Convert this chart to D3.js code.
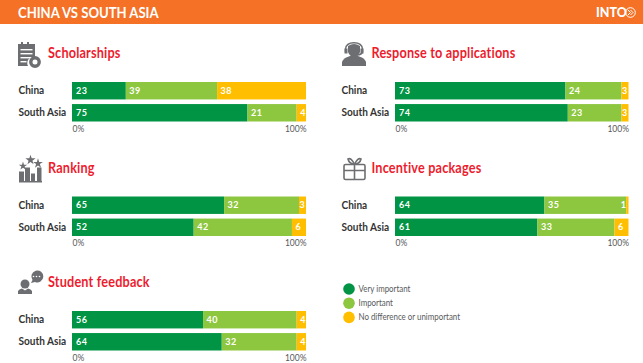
<!DOCTYPE html>
<html lang="en">
<head>
<meta charset="UTF-8">
<title>China vs South Asia</title>
<script src="https://cdnjs.cloudflare.com/ajax/libs/d3/7.8.5/d3.min.js"></script>
<style>
  html, body { margin: 0; padding: 0; background: #fff; }
  svg { display: block; font-family: Lato, "Noto Sans", sans-serif; }
</style>
</head>
<body>
<div id="chart"></div>
<script>
// data
const regions = ['China', 'South Asia']
const seriesNames = ['Very important', 'Important', 'No difference or unimportant']
const tickLabels = [0, 100]

const scholarships = [[23, 39, 38], [75, 21, 4]]
const responseToApplications = [[73, 24, 3], [74, 23, 3]]
const ranking = [[65, 32, 3], [52, 42, 6]]
const incentivePackages = [[64, 35, 1], [61, 33, 6]]
const studentFeedback = [[56, 40, 4], [64, 32, 4]]

const colors = ['#009444', '#8dc63f', '#ffbf00']

const width = 643, height = 363

const svg = d3.select('#chart').append('svg')
  .attr('width', width)
  .attr('height', height)

// header
svg.append('rect').attr('width', width).attr('height', 24).attr('fill', '#f47126')
svg.append('text').attr('transform', 'translate(18,17.5) scale(0.845,1)')
  .attr('fill', '#fff').attr('font-size', 15.5).attr('font-weight', 700)
  .text('CHINA VS SOUTH ASIA')
svg.append('text').attr('x', 596).attr('y', 17)
  .attr('fill', '#fff').attr('font-size', 12.5).attr('font-weight', 900)
  .text('INTO')
const logo = svg.append('g').attr('transform', 'translate(630.5,12.5)')
logo.append('circle').attr('r', 4.8).attr('fill', 'none').attr('stroke', '#fff').attr('stroke-width', 1)
logo.append('path').attr('d', 'M-2.5,-2.5L0,0L-2.5,2.5M0,-2.5L2.5,0L0,2.5')
  .attr('fill', 'none').attr('stroke', '#fff').attr('stroke-width', 1)

const iconColor = '#6d6e71'

// small grey pictograms next to the titles
const icons = {
  scholarships(g) {
    g.append('path').attr('fill', iconColor)
      .attr('d', 'M0,2H3V0H5V2H9V0H11V2H17V16H12A6,6 0 0 0 10,24H0Z')
    g.selectAll('.ln').data([7, 11, 15, 19]).enter().append('rect')
      .attr('x', 2.5).attr('y', d => d).attr('width', d => d > 15 ? 6 : 12).attr('height', 1.4).attr('fill', '#fff')
    g.append('circle').attr('cx', 17).attr('cy', 20).attr('r', 4.2)
      .attr('fill', 'none').attr('stroke', iconColor).attr('stroke-width', 3.4)
  },
  response(g) {
    g.append('path').attr('fill', iconColor)
      .attr('d', 'M0,24V20Q1,16 8,14H16Q23,16 24,20V24Z')
    g.append('path').attr('fill', iconColor)
      .attr('d', 'M6,4Q12,0 18,4V10Q16,15 12,15Q8,15 6,10Z')
    g.append('path').attr('fill', 'none').attr('stroke', iconColor).attr('stroke-width', 1.4)
      .attr('d', 'M3.5,10V7Q4,0.7 12,0.7Q20,0.7 20.5,7V10Q20,12.5 15,13')
    g.append('rect').attr('x', 2.5).attr('y', 6.5).attr('width', 3).attr('height', 5).attr('fill', iconColor)
    g.append('rect').attr('x', 18.5).attr('y', 6.5).attr('width', 3).attr('height', 5).attr('fill', iconColor)
  },
  ranking(g) {
    g.append('path').attr('fill', iconColor)
      .attr('d', 'M0,25V15H5V25ZM6,25V11H11V25ZM12,25V17H16V25ZM18,25V11H22.5V25Z')
    g.append('rect').attr('x', 0).attr('y', 24.5).attr('width', 23).attr('height', 1.5).attr('fill', iconColor)
    const star = d3.symbol().type(d3.symbolStar)
    g.selectAll('.st').data([[4, 9.5, 22], [11.5, 3.5, 32], [19, 7, 30]]).enter().append('path')
      .attr('transform', d => `translate(${d[0]},${d[1]})`)
      .attr('d', d => star.size(d[2])())
      .attr('fill', iconColor)
  },
  incentive(g) {
    g.append('rect').attr('x', 1).attr('y', 8).attr('width', 21).attr('height', 15).attr('rx', 1.5)
      .attr('fill', 'none').attr('stroke', iconColor).attr('stroke-width', 1.6)
    g.append('path').attr('fill', 'none').attr('stroke', iconColor).attr('stroke-width', 1.6)
      .attr('d', 'M1,14H22M11.5,8V23M11.5,8Q6,7 5,2.5Q8,0.5 11.5,8Q15,0.5 18,2.5Q17,7 11.5,8')
  },
  feedback(g) {
    g.append('circle').attr('cx', 7).attr('cy', 13).attr('r', 4.5).attr('fill', iconColor)
    g.append('path').attr('fill', iconColor).attr('d', 'M0,23V20Q1,18 4,17.5L7,19.5L10,17.5Q13,18 14,20V23Z')
    g.append('path').attr('fill', iconColor).attr('d', 'M13,12L14.5,9A6,6 0 1 1 17,11Z')
    g.selectAll('.dot').data([15.5, 18.5, 21.5]).enter().append('circle')
      .attr('cx', d => d).attr('cy', 5.5).attr('r', 0.8).attr('fill', '#fff')
  }
}

const panels = [
  { title: 'Scholarships', values: scholarships, icon: icons.scholarships, x0: 72, x1: 306, top: 82, titleX: 48, iconX: 18 },
  { title: 'Response to applications', values: responseToApplications, icon: icons.response, x0: 395, x1: 628.5, top: 82, titleX: 371.5, iconX: 342 },
  { title: 'Ranking', values: ranking, icon: icons.ranking, x0: 72, x1: 306, top: 196.5, titleX: 48, iconX: 19 },
  { title: 'Incentive packages', values: incentivePackages, icon: icons.incentive, x0: 395, x1: 628.5, top: 196.5, titleX: 371.5, iconX: 343 },
  { title: 'Student feedback', values: studentFeedback, icon: icons.feedback, x0: 72, x1: 306, top: 311, titleX: 48, iconX: 18 }
]

const stack = d3.stack().keys([0, 1, 2])

panels.forEach(function (p) {
  const g = svg.append('g')

  const x = d3.scaleLinear().domain([0, 100]).range([p.x0, p.x1])
  const y = d3.scaleBand().domain(regions).range([p.top, p.top + 39.5]).paddingInner(0.21)

  // title and icon
  g.append('text').attr('transform', `translate(${p.titleX},${p.top - 24}) scale(0.875,1)`)
    .attr('fill', '#ed1c2e').attr('font-size', 14.5).attr('font-weight', 700)
    .attr('letter-spacing', 0.2)
    .text(p.title)
  p.icon(g.append('g').attr('transform', `translate(${p.iconX},${p.top - 40})`))

  // region labels
  g.selectAll('.region').data(regions).enter().append('text')
    .attr('class', 'region')
    .attr('transform', d => `translate(${p.x0 - 53.5},${y(d) + y.bandwidth() / 2 + 3.5}) scale(0.96,1)`)
    .attr('fill', '#333').attr('font-size', 10.5).attr('font-weight', 700)
    .text(d => d)

  // stacked bars
  const layers = stack(p.values)
  layers.forEach(function (layer, s) {
    const cells = g.append('g').selectAll('g').data(layer).enter().append('g')
    cells.append('rect')
      .attr('x', d => x(d[0]))
      .attr('y', (d, i) => y(regions[i]))
      .attr('width', d => x(d[1]) - x(d[0]))
      .attr('height', y.bandwidth())
      .attr('fill', colors[s])
    cells.append('text')
      .attr('x', d => {
        const v = d[1] - d[0]
        if (v < 2) return x(d[0]) - 5.5
        if (v < 4) return x(d[0]) + 0.5
        return x(d[0]) + (s === 0 ? 4 : 3.5)
      })
      .attr('y', (d, i) => y(regions[i]) + y.bandwidth() / 2 + 3.2)
      .attr('fill', '#fff').attr('font-size', 9).attr('font-weight', 700)
      .attr('letter-spacing', 0.5)
      .text(d => d[1] - d[0])
  })

  // axis with only the 0% and 100% labels
  const axis = d3.axisBottom(x).tickValues(tickLabels).tickSize(0).tickPadding(0).tickFormat(d => d + '%')
  const ag = g.append('g')
    .attr('transform', `translate(0,${p.top + 43.5})`)
    .call(axis)
  ag.select('.domain').remove()
  ag.selectAll('text')
    .attr('fill', '#58595b').attr('font-size', 8.5)
    .attr('font-family', 'Lato, sans-serif')
    .attr('text-anchor', d => d === 0 ? 'start' : 'end')
})

// legend
const legend = svg.append('g').selectAll('g').data(seriesNames).enter().append('g')
  .attr('transform', (d, i) => `translate(349,${289 + i * 14.2})`)
legend.append('circle').attr('r', 5.8).attr('fill', (d, i) => colors[i])
legend.append('text').attr('transform', 'translate(9.5,3) scale(0.88,1)')
  .attr('fill', '#58595b').attr('font-size', 9)
  .text(d => d)
</script>
</body>
</html>
